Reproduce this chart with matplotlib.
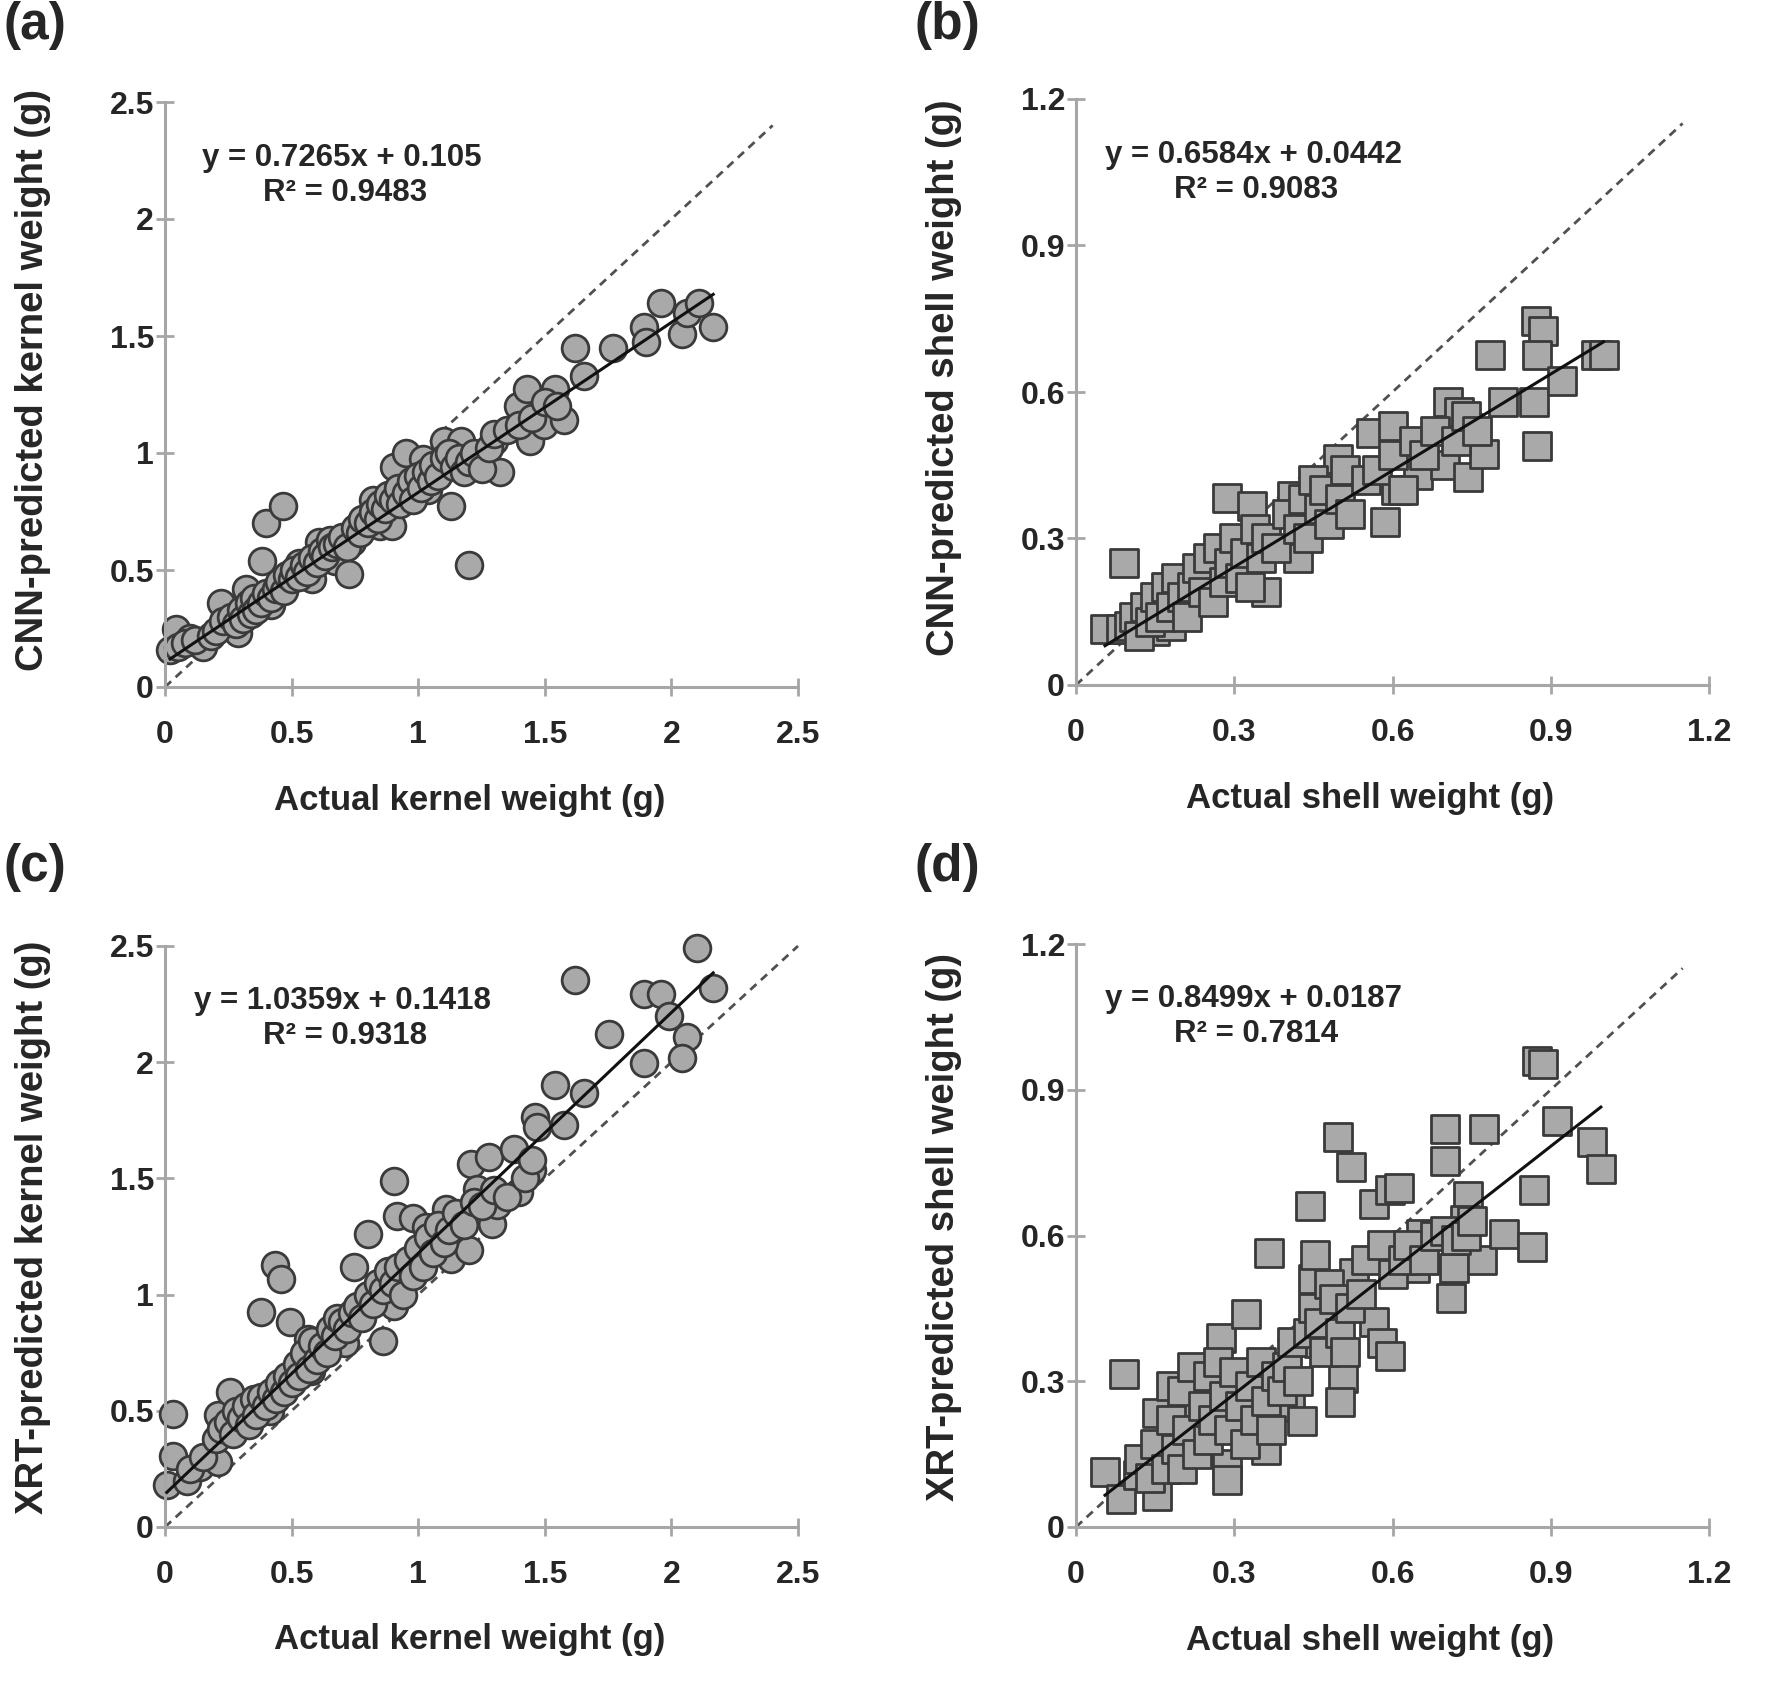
import matplotlib
matplotlib.use("Agg")
import matplotlib.pyplot as plt
import numpy as np

plt.rcParams['font.family'] = ['Liberation Sans', 'DejaVu Sans']
plt.rcParams['font.weight'] = 'bold'

# ---------------- data ----------------
# (a) CNN kernel
a_x = [0.02, 0.045, 0.15, 0.10, 0.22, 0.24, 0.29, 0.32, 0.385, 0.42, 0.40, 0.465, 0.53, 0.58, 0.61,
       0.67, 0.725, 0.74, 0.82, 0.85, 0.895, 0.905, 0.95, 1.02, 1.04, 1.10, 1.13, 1.17, 1.20, 1.235,
       1.30, 1.325, 1.395, 1.43, 1.44, 1.495, 1.54, 1.575, 1.62, 1.655, 1.77, 1.89, 1.90, 1.96, 2.04,
       2.06, 2.11, 2.165,
       0.05, 0.08, 0.12, 0.18, 0.20, 0.23, 0.26, 0.28, 0.30, 0.31, 0.33, 0.34, 0.35, 0.36, 0.38, 0.40,
       0.42, 0.44, 0.45, 0.47, 0.48, 0.50, 0.51, 0.53, 0.55, 0.56, 0.58, 0.60, 0.62, 0.63, 0.65, 0.66,
       0.68, 0.70, 0.72, 0.75, 0.77, 0.78, 0.80, 0.82, 0.84, 0.85, 0.87, 0.88, 0.90, 0.92, 0.93, 0.95,
       0.97, 0.98, 1.00, 1.01, 1.03, 1.05, 1.06, 1.08, 1.10, 1.12, 1.14, 1.16, 1.18, 1.20, 1.22, 1.25,
       1.28, 1.30, 1.35, 1.40, 1.45, 1.50, 1.55]
a_y = [0.16, 0.25, 0.17, 0.21, 0.36, 0.26, 0.23, 0.42, 0.54, 0.35, 0.70, 0.775, 0.53, 0.46, 0.62,
       0.54, 0.485, 0.62, 0.80, 0.69, 0.69, 0.94, 1.00, 0.975, 0.84, 1.05, 0.775, 1.05, 0.52, 0.975,
       1.05, 0.92, 1.20, 1.275, 1.05, 1.12, 1.275, 1.14, 1.45, 1.33, 1.45, 1.54, 1.475, 1.64, 1.51,
       1.60, 1.64, 1.54,
       0.17, 0.19, 0.20, 0.22, 0.24, 0.28, 0.30, 0.27, 0.33, 0.29, 0.36, 0.31, 0.38, 0.33, 0.36, 0.40,
       0.38, 0.42, 0.45, 0.41, 0.48, 0.46, 0.50, 0.47, 0.52, 0.49, 0.55, 0.53, 0.58, 0.56, 0.63, 0.60,
       0.61, 0.64, 0.60, 0.68, 0.66, 0.72, 0.70, 0.75, 0.72, 0.78, 0.76, 0.82, 0.80, 0.85, 0.78, 0.83,
       0.88, 0.80, 0.90, 0.85, 0.92, 0.88, 0.95, 0.90, 0.98, 1.00, 0.94, 0.98, 0.92, 0.96, 1.00, 0.93,
       1.02, 1.08, 1.10, 1.12, 1.15, 1.22, 1.20]

# (b) CNN shell
b_x = [0.055, 0.086, 0.091, 0.128, 0.15, 0.18, 0.286, 0.333, 0.36, 0.42, 0.41, 0.454, 0.496, 0.559,
       0.585, 0.60, 0.606, 0.648, 0.70, 0.706, 0.727, 0.743, 0.743, 0.774, 0.785, 0.81, 0.869, 0.874,
       0.872, 0.885, 0.874, 0.921, 0.985, 1.0,
       0.10, 0.11, 0.12, 0.13, 0.14, 0.15, 0.16, 0.17, 0.18, 0.19, 0.20, 0.21, 0.22, 0.23, 0.24, 0.25,
       0.26, 0.27, 0.28, 0.29, 0.30, 0.31, 0.32, 0.33, 0.34, 0.35, 0.36, 0.38, 0.40, 0.42, 0.43, 0.44,
       0.45, 0.46, 0.47, 0.48, 0.50, 0.51, 0.52, 0.55, 0.57, 0.60, 0.62, 0.64, 0.66, 0.68, 0.72, 0.74,
       0.76]
b_y = [0.115, 0.115, 0.25, 0.13, 0.11, 0.12, 0.383, 0.367, 0.19, 0.26, 0.388, 0.40, 0.463, 0.516,
       0.334, 0.53, 0.40, 0.43, 0.45, 0.58, 0.56, 0.425, 0.527, 0.473, 0.676, 0.58, 0.58, 0.49,
       0.746, 0.725, 0.676, 0.623, 0.676, 0.676,
       0.12, 0.14, 0.10, 0.16, 0.13, 0.18, 0.14, 0.20, 0.16, 0.22, 0.18, 0.14, 0.20, 0.24, 0.19, 0.26,
       0.17, 0.28, 0.21, 0.25, 0.30, 0.22, 0.27, 0.20, 0.32, 0.26, 0.30, 0.28, 0.35, 0.32, 0.38, 0.30,
       0.42, 0.36, 0.40, 0.33, 0.38, 0.44, 0.35, 0.42, 0.44, 0.47, 0.40, 0.50, 0.47, 0.52, 0.50, 0.55,
       0.52]

# (c) XRT kernel
c_x = [0.007, 0.03, 0.03, 0.086, 0.14, 0.21, 0.21, 0.257, 0.38, 0.415, 0.434, 0.46, 0.495, 0.563,
       0.575, 0.71, 0.745, 0.80, 0.86, 0.904, 0.915, 0.904, 0.98, 1.03, 1.11, 1.13, 1.20, 1.21, 1.233,
       1.28, 1.29, 1.31, 1.38, 1.40, 1.45, 1.46, 1.47, 1.54, 1.575, 1.62, 1.653, 1.755, 1.89, 1.89,
       1.96, 1.99, 2.06, 2.04, 2.10, 2.165,
       0.10, 0.15, 0.20, 0.22, 0.25, 0.27, 0.28, 0.30, 0.32, 0.33, 0.35, 0.36, 0.38, 0.40, 0.42, 0.44,
       0.45, 0.47, 0.48, 0.50, 0.52, 0.53, 0.55, 0.57, 0.58, 0.60, 0.62, 0.64, 0.65, 0.67, 0.68, 0.70,
       0.72, 0.74, 0.76, 0.78, 0.80, 0.82, 0.84, 0.86, 0.88, 0.90, 0.92, 0.94, 0.96, 0.98, 1.00, 1.02,
       1.04, 1.06, 1.08, 1.10, 1.12, 1.15, 1.18, 1.22, 1.25, 1.30, 1.35, 1.42, 1.45]
c_y = [0.18, 0.485, 0.305, 0.20, 0.26, 0.28, 0.48, 0.58, 0.925, 0.50, 1.128, 1.068, 0.88, 0.81,
       0.67, 0.79, 1.12, 1.26, 0.80, 1.49, 1.34, 0.95, 1.33, 1.29, 1.37, 1.155, 1.19, 1.56, 1.455,
       1.59, 1.305, 1.385, 1.627, 1.443, 1.535, 1.765, 1.72, 1.90, 1.73, 2.355, 1.868, 2.12, 1.995,
       2.293, 2.293, 2.20, 2.11, 2.02, 2.49, 2.32,
       0.25, 0.30, 0.38, 0.42, 0.45, 0.40, 0.50, 0.47, 0.52, 0.44, 0.55, 0.48, 0.56, 0.52, 0.58, 0.55,
       0.62, 0.58, 0.65, 0.62, 0.70, 0.65, 0.75, 0.68, 0.80, 0.72, 0.78, 0.75, 0.85, 0.82, 0.90, 0.88,
       0.85, 0.92, 0.95, 0.90, 1.00, 0.96, 1.05, 1.02, 1.10, 1.05, 1.12, 1.00, 1.15, 1.08, 1.20, 1.12,
       1.25, 1.18, 1.30, 1.22, 1.28, 1.35, 1.30, 1.40, 1.38, 1.45, 1.42, 1.50, 1.58]

# (d) XRT shell
d_x = [0.055, 0.086, 0.091, 0.118, 0.154, 0.154, 0.18, 0.223, 0.275, 0.286, 0.286, 0.323, 0.36,
       0.365, 0.406, 0.428, 0.443, 0.449, 0.454, 0.46, 0.496, 0.506, 0.50, 0.522, 0.527, 0.564, 0.564,
       0.58, 0.596, 0.596, 0.612, 0.59, 0.643, 0.654, 0.70, 0.70, 0.711, 0.717, 0.743, 0.738, 0.77,
       0.774, 0.811, 0.864, 0.869, 0.874, 0.885, 0.911, 0.979, 0.995,
       0.12, 0.14, 0.15, 0.17, 0.18, 0.19, 0.20, 0.20, 0.21, 0.22, 0.23, 0.24, 0.25, 0.25, 0.26, 0.27,
       0.28, 0.29, 0.30, 0.31, 0.32, 0.33, 0.34, 0.35, 0.36, 0.37, 0.38, 0.39, 0.40, 0.41, 0.42, 0.44,
       0.45, 0.46, 0.47, 0.48, 0.49, 0.50, 0.51, 0.52, 0.54, 0.55, 0.58, 0.60, 0.62, 0.63, 0.66, 0.68,
       0.70, 0.72, 0.74, 0.75]
d_y = [0.114, 0.058, 0.314, 0.108, 0.064, 0.235, 0.29, 0.257, 0.39, 0.13, 0.097, 0.439, 0.158,
       0.564, 0.246, 0.218, 0.66, 0.51, 0.56, 0.378, 0.803, 0.307, 0.257, 0.742, 0.522, 0.665, 0.422,
       0.378, 0.351, 0.693, 0.698, 0.577, 0.533, 0.604, 0.82, 0.753, 0.472, 0.533, 0.682, 0.632, 0.55,
       0.82, 0.604, 0.577, 0.693, 0.96, 0.954, 0.836, 0.792, 0.737,
       0.14, 0.10, 0.17, 0.12, 0.22, 0.16, 0.28, 0.12, 0.20, 0.33, 0.15, 0.25, 0.31, 0.18, 0.22, 0.34,
       0.27, 0.20, 0.32, 0.25, 0.17, 0.29, 0.22, 0.34, 0.26, 0.20, 0.31, 0.28, 0.33, 0.38, 0.30, 0.40,
       0.45, 0.42, 0.36, 0.50, 0.47, 0.40, 0.36, 0.45, 0.48, 0.55, 0.58, 0.52, 0.55, 0.58, 0.55, 0.60,
       0.61, 0.59, 0.60, 0.63]

fits = [(0.7265, 0.105, 0.9483), (0.6584, 0.0442, 0.9083), (1.0359, 0.1418, 0.9318), (0.8499, 0.0187, 0.7814)]
eq_texts = ["y = 0.7265x + 0.105", "y = 0.6584x + 0.0442", "y = 1.0359x + 0.1418", "y = 0.8499x + 0.0187"]
r2_texts = ["R² = 0.9483", "R² = 0.9083", "R² = 0.9318", "R² = 0.7814"]
panel_labels = ["(a)", "(b)", "(c)", "(d)"]
xlabels = ["Actual kernel weight (g)", "Actual shell weight (g)", "Actual kernel weight (g)", "Actual shell weight (g)"]
ylabels = ["CNN-predicted kernel weight (g)", "CNN-predicted shell weight (g)",
           "XRT-predicted kernel weight (g)", "XRT-predicted shell weight (g)"]
kernel_ticks = [0, 0.5, 1, 1.5, 2, 2.5]
kernel_ticklabels = ["0", "0.5", "1", "1.5", "2", "2.5"]
shell_ticks = [0, 0.3, 0.6, 0.9, 1.2]
shell_ticklabels = ["0", "0.3", "0.6", "0.9", "1.2"]
diag_end = [2.4, 1.15, 2.5, 1.15]

# ---------------- figure ----------------
W, H = 1770, 1682
fig = plt.figure(figsize=(W / 100, H / 100), dpi=100)

def frac(l, t, r, b):
    return [l / W, 1 - b / H, (r - l) / W, (b - t) / H]

rects = [frac(165, 102, 798, 687), frac(1076, 99, 1709, 685),
         frac(165, 946, 798, 1527), frac(1076, 944, 1709, 1527)]
label_pos = [(4, 26), (914, 26), (4, 868), (914, 868)]
xlabel_xc = [0.481, 0.465, 0.481, 0.465]
ylabel_yc = [0.525, 0.525, 0.515, 0.515]

data = [(a_x, a_y, 'o', kernel_ticks, kernel_ticklabels),
        (b_x, b_y, 's', shell_ticks, shell_ticklabels),
        (c_x, c_y, 'o', kernel_ticks, kernel_ticklabels),
        (d_x, d_y, 's', shell_ticks, shell_ticklabels)]

axis_col = '#a6a6a6'
txt_col = '#262626'

for i, (xs, ys, mk, ticks, tlabels) in enumerate(data):
    ax = fig.add_axes(rects[i])
    lim = ticks[-1]
    ax.set_xlim(0, lim)
    ax.set_ylim(0, lim)
    for s in ['top', 'right']:
        ax.spines[s].set_visible(False)
    for s in ['left', 'bottom']:
        ax.spines[s].set_color(axis_col)
        ax.spines[s].set_linewidth(2.2)
    ax.set_xticks(ticks)
    ax.set_yticks(ticks)
    ax.set_xticklabels(tlabels)
    ax.set_yticklabels(tlabels)
    ax.tick_params(direction='inout', length=13, width=2, color=axis_col,
                   labelsize=23, labelcolor=txt_col)
    ax.tick_params(axis='x', pad=17)
    ax.tick_params(axis='y', pad=1.5)
    for lab in ax.get_xticklabels() + ax.get_yticklabels():
        lab.set_fontweight('bold')

    # 1:1 dashed line
    ax.plot([0, diag_end[i]], [0, diag_end[i]], ls=(0, (3, 2.2)), color='#505050', lw=2.0, zorder=1,
            clip_on=False)
    # points
    sz = 370 if mk == 'o' else 400
    ax.scatter(xs, ys, s=sz, marker=mk, facecolor='#a9a9a9', edgecolor='#3a3a3a', linewidths=2.0,
               zorder=2, clip_on=False)
    # regression line
    m, c, r2 = fits[i]
    x0, x1 = min(xs), max(xs)
    ax.plot([x0, x1], [m * x0 + c, m * x1 + c], color='#111111', lw=2.2, zorder=3, clip_on=False)

    ax.text(0.28, 0.905, eq_texts[i], transform=ax.transAxes, ha='center', va='center',
            fontsize=22.5, fontweight='bold', color=txt_col)
    ax.text(0.285, 0.845, r2_texts[i], transform=ax.transAxes, ha='center', va='center',
            fontsize=22.5, fontweight='bold', color=txt_col)

    ax.set_xlabel(xlabels[i], fontsize=25, fontweight='bold', color=txt_col)
    ax.set_ylabel(ylabels[i], fontsize=27.5, fontweight='bold', color=txt_col)
    ax.xaxis.set_label_coords(xlabel_xc[i], -0.166)
    ax.yaxis.set_label_coords(-0.18, ylabel_yc[i])

    lx, ly = label_pos[i]
    fig.text(lx / W, 1 - ly / H, panel_labels[i], ha='left', va='center', fontsize=37,
             fontweight='bold', color=txt_col)

fig.savefig('out.png', dpi=100, facecolor='white')
